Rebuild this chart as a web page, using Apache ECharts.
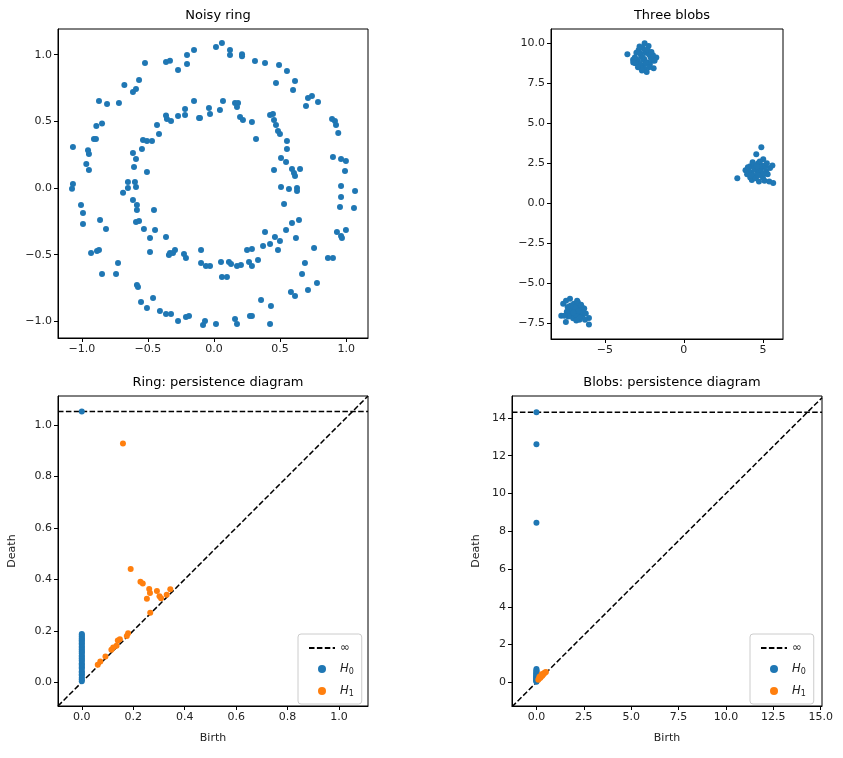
<!DOCTYPE html>
<html><head><meta charset="utf-8">
<script src="https://cdn.jsdelivr.net/npm/echarts@6/dist/echarts.min.js"></script>
<style>html,body{margin:0;padding:0;background:#fff}#c{width:843px;height:758px}</style>
</head><body><div id="c"></div>
<script>
const ringPoints = [
[-1.067,0.308],[-1.067,0.03],[-0.966,0.18],[-0.946,0.135],[-0.953,0.283],[-0.946,0.255],[-0.908,0.368],[-0.893,0.368],[-0.89,0.465],[-0.847,0.485],[-0.87,0.653],[-0.809,0.63],[-0.719,0.638],[-0.678,0.773],[-0.613,0.72],[-0.59,0.743],[-0.567,0.81],[-0.522,0.938],[-0.363,0.945],[-0.333,0.955],[-0.272,0.885],[-0.204,0.93],[-0.204,0.998],[-0.151,1.035],[0.015,1.058],[0.06,1.088],[0.121,1.035],[0.121,0.998],[0.212,1.003],[0.212,0.988],[0.31,0.953],[0.386,0.938],[0.492,0.923],[0.552,0.878],[0.469,0.788],[0.613,0.803],[0.598,0.735],[0.696,0.615],[0.711,0.675],[0.741,0.69],[0.787,0.645],[0.893,0.518],[0.915,0.503],[0.923,0.473],[0.94,0.413],[0.9,0.233],[0.961,0.218],[0.998,0.203],[0.991,0.128],[0.961,0.015],[1.067,-0.023],
[-0.688,-0.035],[-0.651,0.0],[-0.651,0.045],[-0.598,0.045],[-0.59,0.008],[-0.605,0.158],[-0.59,0.218],[-0.613,0.263],[-0.507,0.12],[-0.545,0.293],[-0.537,0.36],[-0.507,0.353],[-0.469,0.353],[-0.416,0.405],[-0.431,0.473],[-0.363,0.545],[-0.356,0.518],[-0.325,0.503],[-0.272,0.54],[-0.219,0.548],[-0.219,0.593],[-0.151,0.653],[-0.113,0.525],[-0.106,0.525],[-0.038,0.6],[-0.03,0.555],[0.045,0.585],[0.068,0.653],[0.159,0.638],[0.182,0.638],[0.174,0.608],[0.197,0.533],[0.219,0.51],[0.287,0.495],[0.318,0.368],[0.424,0.548],[0.446,0.555],[0.454,0.51],[0.469,0.473],[0.484,0.428],[0.499,0.405],[0.552,0.353],[0.552,0.293],[0.507,0.225],[0.545,0.195],[0.454,0.135],[0.59,0.143],[0.605,0.113],[0.613,0.09],[0.651,0.143],[0.507,0.008],[0.567,-0.008],[0.628,0.0],[0.628,-0.023],
[-1.074,-0.005],[-1.006,-0.128],[-0.991,-0.188],[-0.991,-0.27],[-0.862,-0.24],[-0.817,-0.308],[-0.93,-0.488],[-0.885,-0.473],[-0.87,-0.465],[-0.847,-0.645],[-0.741,-0.645],[-0.726,-0.563],[-0.583,-0.728],[-0.575,-0.743],[-0.552,-0.855],[-0.507,-0.9],[-0.461,-0.825],[-0.409,-0.923],[-0.363,-0.945],[-0.325,-0.945],[-0.272,-0.998],[-0.212,-0.968],[-0.189,-0.96],[-0.083,-1.028],[-0.068,-0.998],[0.015,-1.02],[0.159,-0.983],[0.174,-1.02],[0.272,-0.96],[0.287,-0.96],[0.356,-0.84],[0.431,-0.885],[0.424,-1.02],[0.582,-0.78],[0.613,-0.81],[0.711,-0.765],[0.779,-0.713],[0.666,-0.645],[0.688,-0.563],[0.757,-0.45],[0.862,-0.525],[0.9,-0.525],[0.93,-0.33],[0.961,-0.36],[0.968,-0.375],[0.998,-0.315],[1.059,-0.15],[0.953,-0.143],[0.961,-0.068],
[-0.613,-0.09],[-0.583,-0.128],[-0.583,-0.165],[-0.454,-0.165],[-0.59,-0.255],[-0.567,-0.248],[-0.53,-0.308],[-0.446,-0.315],[-0.484,-0.375],[-0.484,-0.48],[-0.363,-0.368],[-0.341,-0.503],[-0.333,-0.488],[-0.31,-0.488],[-0.295,-0.465],[-0.227,-0.495],[-0.212,-0.525],[-0.098,-0.465],[-0.098,-0.563],[-0.061,-0.585],[-0.03,-0.585],[0.053,-0.555],[0.06,-0.668],[0.098,-0.668],[0.113,-0.555],[0.129,-0.57],[0.174,-0.585],[0.204,-0.578],[0.25,-0.465],[0.287,-0.458],[0.265,-0.555],[0.287,-0.585],[0.333,-0.54],[0.371,-0.435],[0.386,-0.33],[0.424,-0.42],[0.461,-0.368],[0.484,-0.465],[0.499,-0.398],[0.545,-0.315],[0.53,-0.12],[0.59,-0.263],[0.62,-0.375],[0.643,-0.24]
];
const blobPoints = [
[-2.5,9.0],[-2.7,9.2],[-2.3,8.8],[-2.9,8.9],[-2.1,9.1],[-2.6,8.6],[-2.4,9.4],[-2.8,8.7],[-2.2,9.3],[-3.0,9.0],[-2.5,8.4],[-2.35,8.2],[-2.48,10.0],[-2.23,9.83],[-1.74,9.1],[-1.91,8.44],[-3.57,9.31],[-3.07,8.75],[-3.21,8.96],[-2.86,9.58],[-2.6,9.7],[-2.0,8.9],[-2.7,8.45],[-3.1,9.1],[-2.45,9.55],[-2.15,8.65],[-2.55,8.95],[-2.75,9.35],[-1.95,9.25],[-2.9,8.5],[-2.3,9.6],[-2.65,8.3],[-3.2,8.8],[-2.05,9.45],[-2.4,8.75],[-2.8,9.8],[-2.2,8.5],[-3.0,9.4],[-1.85,8.9],[-2.6,9.1],
[4.6,2.1],[4.3,1.9],[4.9,2.2],[4.5,1.7],[4.8,1.8],[4.2,2.3],[5.0,1.6],[4.4,2.4],[4.7,2.5],[5.2,2.0],[4.1,2.0],[3.9,2.05],[4.9,3.5],[4.58,3.06],[3.38,1.56],[5.65,1.25],[5.6,2.35],[5.02,2.75],[4.3,1.45],[4.75,1.35],[5.1,1.4],[5.4,1.35],[5.45,2.2],[4.0,1.8],[4.65,2.0],[4.45,2.15],[4.85,1.95],[5.3,1.8],[4.2,1.6],[4.95,2.35],[4.35,2.55],[5.15,2.3],[4.55,1.55],[4.7,1.75],[4.05,2.25],[5.25,2.5],[4.8,2.6],[4.25,1.75],[4.6,2.3],[5.05,1.85],
[-6.85,-6.7],[-7.0,-6.5],[-6.7,-6.9],[-6.6,-6.6],[-7.1,-6.9],[-6.9,-7.1],[-6.5,-6.8],[-7.2,-6.7],[-6.75,-6.4],[-6.4,-7.0],[-6.3,-6.6],[-7.0,-7.2],[-7.75,-7.04],[-6.0,-7.6],[-7.2,-5.98],[-7.63,-6.3],[-6.0,-7.19],[-7.46,-7.44],[-6.7,-6.2],[-6.6,-7.3],[-7.4,-6.8],[-6.95,-6.3],[-6.45,-6.5],[-7.3,-7.1],[-6.8,-7.0],[-6.55,-7.15],[-7.05,-6.65],[-6.25,-7.3],[-7.55,-7.05],[-6.9,-6.55],[-6.65,-6.75],[-7.15,-6.4],[-6.35,-6.85],[-6.8,-7.35],[-7.35,-6.5],[-6.5,-6.35],[-7.0,-6.85],[-6.2,-6.9],[-7.45,-6.1],[-6.75,-6.1]
];
const ringH0Deaths = [0.004,0.011,0.017,0.026,0.031,0.038,0.043,0.052,0.057,0.063,0.069,0.074,0.082,0.086,0.093,0.099,0.104,0.112,0.117,0.121,0.128,0.134,0.139,0.146,0.151,0.157,0.163,0.168,0.172,0.178,0.183,0.187,1.052];
const ringH1 = [[0.16,0.928],[0.19,0.44],[0.228,0.39],[0.237,0.384],[0.262,0.362],[0.265,0.347],[0.253,0.324],[0.292,0.355],[0.302,0.334],[0.308,0.326],[0.33,0.34],[0.344,0.361],[0.266,0.27],[0.18,0.19],[0.175,0.18],[0.148,0.167],[0.14,0.162],[0.135,0.142],[0.122,0.135],[0.115,0.126],[0.092,0.1],[0.072,0.08],[0.062,0.068]];
const blobsH0Deaths = [0.03,0.06,0.09,0.11,0.14,0.16,0.19,0.22,0.24,0.27,0.31,0.33,0.37,0.41,0.44,0.49,0.53,0.58,0.64,0.71,8.45,12.6,14.3];
const blobsH1 = [[0.1,0.14],[0.14,0.21],[0.19,0.28],[0.24,0.31],[0.29,0.39],[0.34,0.42],[0.4,0.49],[0.45,0.52],[0.5,0.55],[0.21,0.25],[0.31,0.35],[0.38,0.45],[0.16,0.3],[0.27,0.43]];
const ringInf = 1.052, blobsInf = 14.3;
const ticksRingX = [-1.0,-0.5,0.0,0.5,1.0], ticksRingY = [-1.0,-0.5,0.0,0.5,1.0];
const ticksBlobX = [-5,0,5], ticksBlobY = [-7.5,-5.0,-2.5,0.0,2.5,5.0,7.5,10.0];
const ticksPDRing = [0.0,0.2,0.4,0.6,0.8,1.0];
const ticksPDBlobX = [0.0,2.5,5.0,7.5,10.0,12.5,15.0], ticksPDBlobY = [0,2,4,6,8,10,12,14];

const BLUE='#1f77b4', ORANGE='#ff7f0e';
const fmt = d => v => (v<0?'\u2212':'')+Math.abs(v).toFixed(d);
const font = 'DejaVu Sans';
function ax(min,max,ticks,dec,extra){
  return Object.assign({type:'value',min,max,scale:true,
    axisLine:{show:true,onZero:false,lineStyle:{color:'#000',width:1}},
    axisTick:{show:true,length:4,lineStyle:{color:'#000'},customValues:ticks},
    axisLabel:{color:'#222',fontSize:11,fontFamily:font,formatter:fmt(dec),customValues:ticks,margin:6},
    splitLine:{show:false}},extra||{});
}
const grids=[
 {left:58,top:29,width:310,height:309},
 {left:551,top:29,width:232,height:310},
 {left:58,top:396,width:310,height:310},
 {left:512,top:396,width:310,height:310}
].map(g=>Object.assign(g,{show:true,borderColor:'#000',borderWidth:1,backgroundColor:'#fff'}));
const nameX={name:'Birth',nameLocation:'middle',nameGap:27,nameTextStyle:{color:'#222',fontSize:11,fontFamily:font}};
const nameY=g=>({name:'Death',nameLocation:'middle',nameGap:g,nameTextStyle:{color:'#222',fontSize:11,fontFamily:font}});
const r1=[-0.0925,1.1125], r2=[-1.29,15.07], r2y=[-1.25,15.16];
const xAxis=[ax(-1.18,1.165,ticksRingX,1,{gridIndex:0}),ax(-8.4,6.27,ticksBlobX,0,{gridIndex:1}),
 ax(r1[0],r1[1],ticksPDRing,1,Object.assign({gridIndex:2},nameX)),ax(r2[0],r2[1],ticksPDBlobX,1,Object.assign({gridIndex:3},nameX))];
const yAxis=[ax(-1.125,1.193,ticksRingY,1,{gridIndex:0}),ax(-8.5,10.89,ticksBlobY,1,{gridIndex:1}),
 ax(r1[0],r1[1],ticksPDRing,1,Object.assign({gridIndex:2},nameY(40))),ax(r2y[0],r2y[1],ticksPDBlobY,0,Object.assign({gridIndex:3},nameY(30)))];
const sc=(i,data,color,name)=>({type:'scatter',name,xAxisIndex:i,yAxisIndex:i,data,symbolSize:6,itemStyle:{color,opacity:1},silent:true,z:3});
const dash={color:'#000',width:1.5,type:[5.5,2.4]};
const ln=(i,data,name)=>({type:'line',name,xAxisIndex:i,yAxisIndex:i,data,symbol:'none',lineStyle:dash,itemStyle:{color:'#000'},silent:true,z:2});
const series=[
 sc(0,ringPoints,BLUE), sc(1,blobPoints,BLUE),
 ln(2,[[r1[0],r1[0]],[r1[1],r1[1]]]), ln(2,[[r1[0],ringInf],[r1[1],ringInf]],'∞'),
 sc(2,ringH0Deaths.map(d=>[0,d]),BLUE,'H0'), sc(2,ringH1,ORANGE,'H1'),
 ln(3,[[r2[0],r2[0]],[r2[1],r2[1]]]), ln(3,[[r2[0],blobsInf],[r2[1],blobsInf]],'∞ '),
 sc(3,blobsH0Deaths.map(d=>[0,d]),BLUE,'H0 '), sc(3,blobsH1,ORANGE,'H1 ')
];
const legFmt=n=>{n=n.trim(); return n==='∞'?'∞':'{i|H}{s|'+n[1]+'}';};
const legBase={orient:'vertical',backgroundColor:'rgba(255,255,255,0.8)',borderColor:'#ccc',borderWidth:1,borderRadius:3,
 padding:[8,8,6,10],itemGap:9,itemWidth:26,itemHeight:8,formatter:legFmt,
 textStyle:{fontFamily:font,fontSize:11.5,color:'#222',rich:{i:{fontStyle:'italic',fontSize:11.5,fontFamily:font},s:{fontSize:8,verticalAlign:'bottom',padding:[6,0,0,0],fontFamily:font}}}};
const lineItem=n=>({name:n,itemStyle:{opacity:0}});
const legend=[
 Object.assign({},legBase,{left:298,top:634,data:[lineItem('∞'),{name:'H0',icon:'circle'},{name:'H1',icon:'circle'}]}),
 Object.assign({},legBase,{left:750,top:634,data:[lineItem('∞ '),{name:'H0 ',icon:'circle'},{name:'H1 ',icon:'circle'}]})
];
const tt=(t,x)=>({text:t,left:x,top:4,textAlign:'center',textStyle:{fontFamily:font,fontSize:13,fontWeight:'normal',color:'#000'}});
const title=[tt('Noisy ring',213),tt('Three blobs',667),{...tt('Ring: persistence diagram',213),top:371},{...tt('Blobs: persistence diagram',667),top:371}];
const chart=echarts.init(document.getElementById('c'));
chart.setOption({animation:false,title,grid:grids,xAxis,yAxis,series,legend});
</script></body></html>
